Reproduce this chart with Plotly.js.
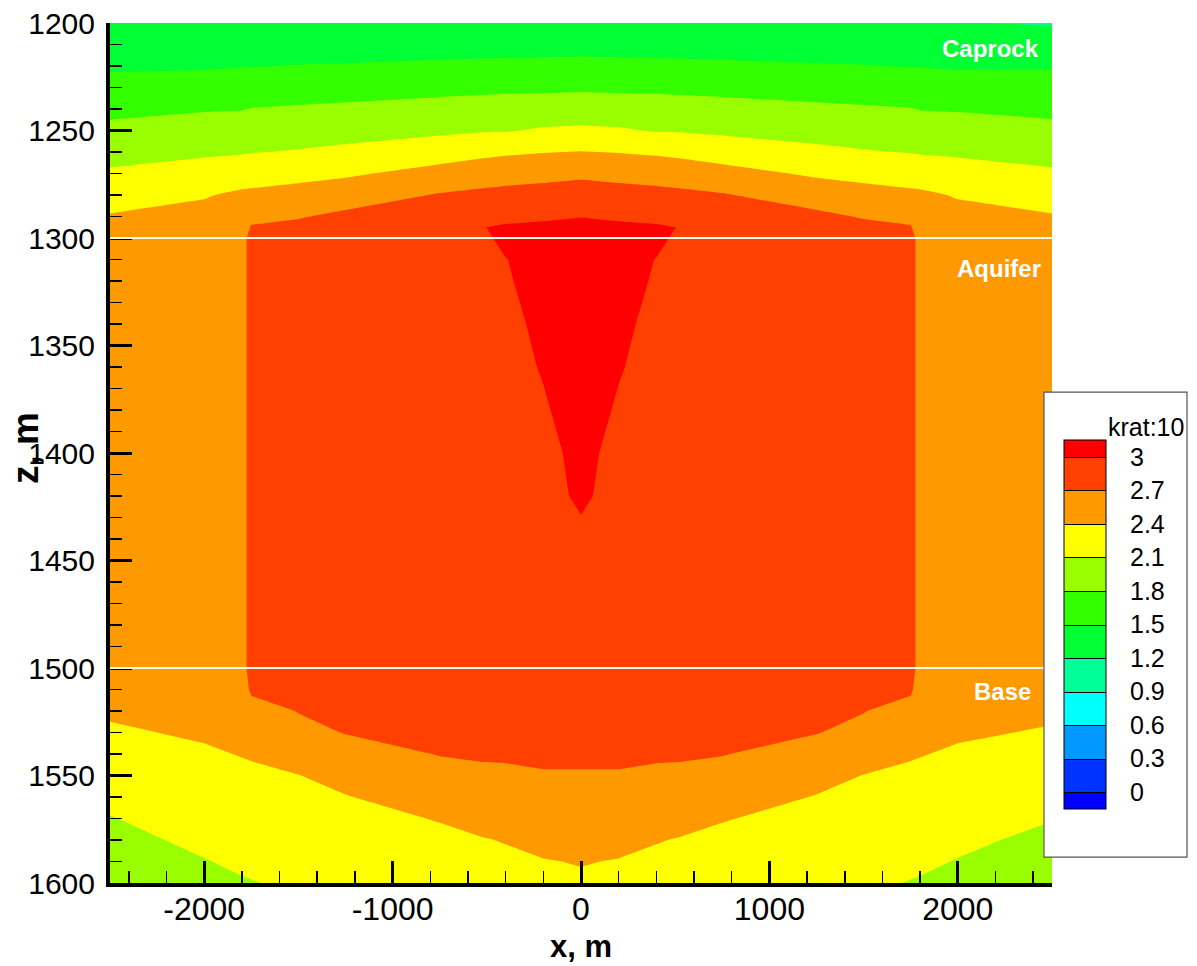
<!DOCTYPE html>
<html>
<head>
<meta charset="utf-8">
<script src="https://cdn.plot.ly/plotly-3.0.1.min.js"></script>
<style>html,body{margin:0;padding:0;background:#fff;}#chart{width:1197px;height:966px;}</style>
</head>
<body>
<div id="chart"></div>
<script>
// horizontal positions of the grid columns (m)
const xGrid = [-2500, -2000, -1800, -1750, -1500, -1250, -750, -520, -400, -200, 0, 200, 400, 520, 750, 1250, 1500, 1750, 1800, 2000, 2500];
// depths of the grid rows (m)
const zGrid = [1200, 1210, 1220, 1230, 1240, 1250, 1260, 1270, 1280, 1290, 1295, 1300, 1310, 1320, 1340, 1360, 1380, 1400, 1420, 1430, 1440, 1500, 1510, 1520, 1530, 1540, 1550, 1560, 1570, 1580, 1590, 1600];
// krat values, one row per depth
const krat = [
  [1.21,1.21,1.21,1.21,1.21,1.22,1.22,1.23,1.24,1.25,1.25,1.25,1.24,1.23,1.22,1.22,1.21,1.21,1.21,1.21,1.18],
  [1.34,1.34,1.35,1.35,1.36,1.37,1.38,1.39,1.40,1.40,1.40,1.40,1.40,1.39,1.38,1.37,1.36,1.35,1.35,1.34,1.34],
  [1.46,1.47,1.49,1.49,1.51,1.52,1.55,1.56,1.56,1.57,1.58,1.57,1.56,1.56,1.55,1.52,1.51,1.49,1.49,1.47,1.48],
  [1.60,1.63,1.64,1.65,1.67,1.69,1.73,1.74,1.75,1.75,1.76,1.75,1.75,1.74,1.73,1.69,1.67,1.65,1.64,1.63,1.61],
  [1.73,1.78,1.79,1.81,1.83,1.85,1.89,1.91,1.92,1.94,1.95,1.94,1.92,1.91,1.89,1.85,1.83,1.81,1.79,1.78,1.74],
  [1.87,1.92,1.94,1.95,1.97,2.00,2.05,2.08,2.08,2.13,2.15,2.13,2.08,2.08,2.05,2.00,1.97,1.95,1.94,1.92,1.87],
  [2.00,2.06,2.08,2.09,2.12,2.16,2.27,2.33,2.36,2.39,2.41,2.39,2.36,2.33,2.27,2.16,2.12,2.09,2.08,2.06,2.00],
  [2.14,2.22,2.26,2.27,2.31,2.36,2.50,2.57,2.59,2.62,2.65,2.62,2.59,2.57,2.50,2.36,2.31,2.27,2.26,2.22,2.14],
  [2.28,2.38,2.45,2.46,2.51,2.56,2.72,2.76,2.78,2.80,2.83,2.80,2.78,2.76,2.72,2.56,2.51,2.46,2.45,2.38,2.28],
  [2.42,2.48,2.52,2.63,2.68,2.76,2.80,2.91,2.93,2.96,2.99,2.96,2.93,2.91,2.80,2.76,2.68,2.63,2.52,2.48,2.42],
  [2.48,2.52,2.55,2.72,2.77,2.81,2.84,2.995,3.03,3.05,3.10,3.05,3.03,2.995,2.84,2.81,2.77,2.72,2.55,2.52,2.48],
  [2.53,2.55,2.55,2.85,2.85,2.85,2.85,2.92,3.10,3.15,3.15,3.15,3.10,2.92,2.85,2.85,2.85,2.85,2.55,2.55,2.53],
  [2.55,2.55,2.55,2.85,2.85,2.85,2.85,2.85,2.99,3.15,3.15,3.15,2.99,2.85,2.85,2.85,2.85,2.85,2.55,2.55,2.55],
  [2.55,2.55,2.55,2.85,2.85,2.85,2.85,2.85,2.96,3.15,3.15,3.15,2.96,2.85,2.85,2.85,2.85,2.85,2.55,2.55,2.55],
  [2.55,2.55,2.55,2.85,2.85,2.85,2.85,2.85,2.82,3.15,3.15,3.15,2.82,2.85,2.85,2.85,2.85,2.85,2.55,2.55,2.55],
  [2.55,2.55,2.55,2.85,2.85,2.85,2.85,2.85,2.85,3.03,3.20,3.03,2.85,2.85,2.85,2.85,2.85,2.85,2.55,2.55,2.55],
  [2.55,2.55,2.55,2.85,2.85,2.85,2.85,2.85,2.85,2.955,3.19,2.955,2.85,2.85,2.85,2.85,2.85,2.85,2.55,2.55,2.55],
  [2.55,2.55,2.55,2.85,2.85,2.85,2.85,2.85,2.85,2.85,3.14,2.85,2.85,2.85,2.85,2.85,2.85,2.85,2.55,2.55,2.55],
  [2.55,2.55,2.55,2.85,2.85,2.85,2.85,2.85,2.85,2.85,3.07,2.85,2.85,2.85,2.85,2.85,2.85,2.85,2.55,2.55,2.55],
  [2.55,2.55,2.55,2.85,2.85,2.85,2.85,2.85,2.85,2.85,2.99,2.85,2.85,2.85,2.85,2.85,2.85,2.85,2.55,2.55,2.55],
  [2.55,2.55,2.55,2.85,2.85,2.85,2.85,2.85,2.85,2.85,2.85,2.85,2.85,2.85,2.85,2.85,2.85,2.85,2.55,2.55,2.55],
  [2.55,2.55,2.55,2.85,2.85,2.85,2.85,2.85,2.85,2.85,2.85,2.85,2.85,2.85,2.85,2.85,2.85,2.85,2.55,2.55,2.55],
  [2.48,2.53,2.55,2.75,2.79,2.82,2.85,2.85,2.85,2.85,2.85,2.85,2.85,2.85,2.85,2.82,2.79,2.75,2.55,2.53,2.49],
  [2.43,2.48,2.52,2.58,2.71,2.76,2.83,2.84,2.84,2.85,2.85,2.85,2.84,2.84,2.83,2.76,2.71,2.58,2.52,2.48,2.44],
  [2.37,2.43,2.46,2.50,2.62,2.71,2.77,2.78,2.79,2.82,2.82,2.82,2.79,2.78,2.77,2.71,2.62,2.50,2.46,2.43,2.38],
  [2.30,2.37,2.41,2.42,2.51,2.59,2.71,2.73,2.73,2.75,2.75,2.75,2.73,2.73,2.71,2.59,2.51,2.42,2.41,2.37,2.31],
  [2.23,2.32,2.35,2.36,2.395,2.48,2.61,2.65,2.66,2.68,2.68,2.68,2.66,2.65,2.61,2.48,2.395,2.36,2.35,2.32,2.24],
  [2.16,2.26,2.30,2.30,2.34,2.39,2.51,2.56,2.58,2.61,2.61,2.61,2.58,2.56,2.51,2.39,2.34,2.30,2.30,2.26,2.17],
  [2.09,2.21,2.24,2.25,2.30,2.34,2.41,2.47,2.49,2.53,2.54,2.53,2.49,2.47,2.41,2.34,2.30,2.25,2.24,2.21,2.11],
  [2.03,2.15,2.19,2.20,2.25,2.29,2.36,2.39,2.41,2.46,2.48,2.46,2.41,2.39,2.36,2.29,2.25,2.20,2.19,2.15,2.04],
  [1.96,2.09,2.14,2.15,2.20,2.24,2.32,2.35,2.36,2.39,2.41,2.39,2.36,2.35,2.32,2.24,2.20,2.15,2.14,2.09,1.97],
  [1.89,2.03,2.08,2.09,2.14,2.19,2.27,2.30,2.32,2.35,2.37,2.35,2.32,2.30,2.27,2.19,2.14,2.09,2.08,2.03,1.90]
];
// contour levels and band colours (lowest band first)
const levelStart = 0, levelEnd = 3, levelStep = 0.3;
const bandColors = ['#0000ff','#0033ff','#0099ff','#00ffff','#00ff99','#00ff33','#33ff00','#99ff00','#ffff00','#ff9900','#ff4000','#ff0000'];
const levelTickVals = [0, 0.3, 0.6, 0.9, 1.2, 1.5, 1.8, 2.1, 2.4, 2.7, 3];
const levelTickText = ['0','0.3','0.6','0.9','1.2','1.5','1.8','2.1','2.4','2.7','3'];
// axis tick labels
const xTickVals = [-2000, -1000, 0, 1000, 2000];
const xTickText = ['-2000', '-1000', '0', '1000', '2000'];
// layer boundaries and zone labels
const layerDepths = [1300, 1500];
const zoneNames = ['Caprock', 'Aquifer', 'Base'];
const zoneDepths = [1212, 1314, 1511];
const zoneRightX = [0.988, 0.990, 0.980];

const colorscale = bandColors.map((c, i) => [i / (bandColors.length - 1), c]);
const FONT = 'Liberation Sans, Arial, sans-serif';

const contoursCfg = {start: levelStart, end: levelEnd, size: levelStep, coloring: 'fill'};

const main = {
  type: 'contour', x: xGrid, y: zGrid, z: krat,
  autocontour: false,
  contours: Object.assign({showlines: false}, contoursCfg),
  colorscale: colorscale,
  line: {width: 0, smoothing: 0},
  showscale: false,
  hoverinfo: 'x+y+z'
};
const legendTrace = {
  type: 'contour', x: xGrid, y: zGrid, z: krat,
  autocontour: false,
  contours: Object.assign({showlines: true}, contoursCfg),
  colorscale: colorscale,
  line: {width: 1, color: '#000000', smoothing: 0},
  opacity: 0,
  hoverinfo: 'skip',
  showscale: true,
  colorbar: {
    x: 1.0127, xanchor: 'left', xpad: 0,
    y: 0.3006, yanchor: 'middle', ypad: 0,
    len: 369, lenmode: 'pixels',
    thickness: 42, thicknessmode: 'pixels',
    outlinewidth: 1, outlinecolor: '#000000',
    borderwidth: 0, bgcolor: 'rgba(0,0,0,0)',
    tickmode: 'array', tickvals: levelTickVals, ticktext: levelTickText,
    ticks: 'outside', ticklen: 19, tickcolor: 'rgba(0,0,0,0)',
    tickfont: {family: FONT, size: 25, color: '#000000'}
  }
};

const shapes = layerDepths.map(d => ({
  type: 'line', xref: 'paper', x0: 0, x1: 1, yref: 'y', y0: d, y1: d,
  line: {color: '#fffbe8', width: 2}, layer: 'above'
}));
shapes.push({
  type: 'rect', xref: 'paper', yref: 'paper',
  x0: 0.9915, x1: 1.1433, y0: 0.0302, y1: 0.5709,
  fillcolor: '#ffffff', line: {color: '#555555', width: 1.2}, layer: 'above'
});

const annotations = zoneNames.map((n, i) => ({
  text: n, xref: 'paper', x: zoneRightX[i], xanchor: 'right',
  yref: 'y', y: zoneDepths[i], yanchor: 'middle', showarrow: false,
  font: {family: FONT, size: 24, color: '#ffffff', weight: 'bold'}
}));
annotations.push({
  text: 'krat:10', xref: 'paper', yref: 'paper', x: 1.1420, xanchor: 'right',
  y: (883 - 427) / 860, yanchor: 'middle', showarrow: false,
  font: {family: FONT, size: 25, color: '#000000'}
});
annotations.push({
  text: 'z, m', xref: 'paper', yref: 'paper', x: (25 - 110) / 942, xanchor: 'center',
  y: (883 - 448) / 860, yanchor: 'middle', textangle: -90, showarrow: false,
  font: {family: FONT, size: 37, color: '#000000', weight: 'bold'}
});
annotations.push({
  text: 'x, m', xref: 'paper', yref: 'paper', x: 0.5, xanchor: 'center',
  y: (883 - 946) / 860, yanchor: 'middle', showarrow: false,
  font: {family: FONT, size: 31, color: '#000000', weight: 'bold'}
});

const layout = {
  width: 1197, height: 966,
  margin: {l: 110, r: 145, t: 23, b: 83, pad: 0},
  paper_bgcolor: '#ffffff', plot_bgcolor: '#ffffff',
  showlegend: false,
  font: {family: FONT, color: '#000000'},
  xaxis: {
    range: [-2500, 2500], tickmode: 'array', tickvals: xTickVals, ticktext: xTickText,
    ticks: 'inside', ticklen: 22, tickwidth: 3, tickcolor: '#000000',
    minor: {tickmode: 'linear', dtick: 200, tick0: 0, ticks: 'inside', ticklen: 12, tickwidth: 1.5, tickcolor: '#000000', showgrid: false},
    showline: true, linewidth: 4, linecolor: '#000000', mirror: false,
    showgrid: false, zeroline: false,
    tickfont: {family: FONT, size: 32, color: '#000000'},
    ticklabelstandoff: -5
  },
  yaxis: {
    range: [1600, 1200], tickmode: 'linear', tick0: 1200, dtick: 50,
    ticks: 'inside', ticklen: 22, tickwidth: 3, tickcolor: '#000000',
    minor: {tickmode: 'linear', dtick: 10, tick0: 1200, ticks: 'inside', ticklen: 12, tickwidth: 1.5, tickcolor: '#000000', showgrid: false},
    showline: true, linewidth: 4, linecolor: '#000000', mirror: false,
    showgrid: false, zeroline: false,
    tickfont: {family: FONT, size: 30, color: '#000000'},
    ticklabelstandoff: 5
  },
  shapes: shapes,
  annotations: annotations
};

Plotly.newPlot('chart', [main, legendTrace], layout, {displayModeBar: false, staticPlot: true});
</script>
</body>
</html>
